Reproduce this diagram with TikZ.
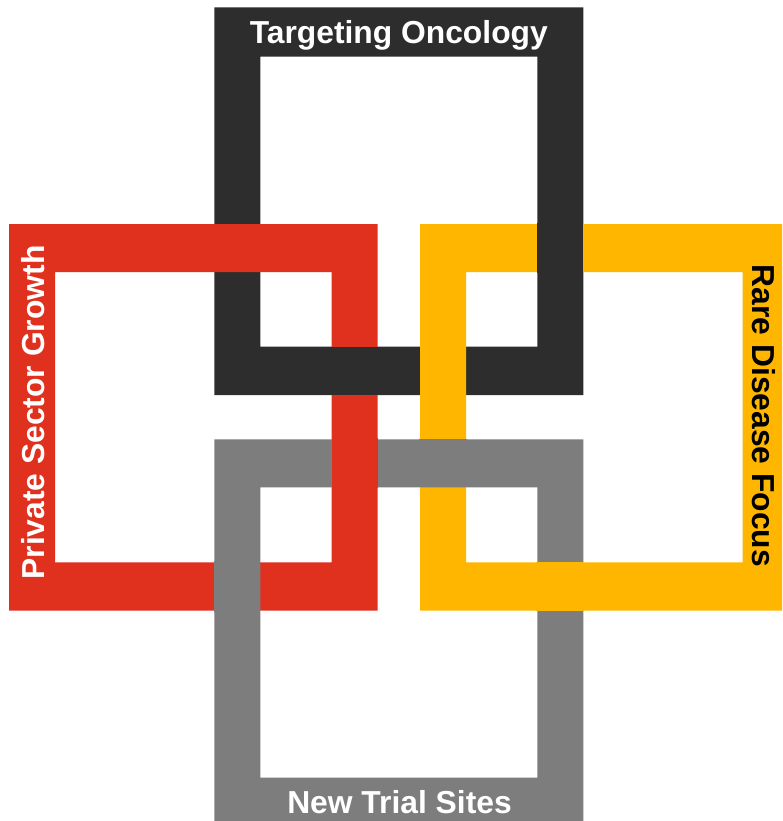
\documentclass[tikz,border=0pt]{standalone}
\usepackage{fontspec}
\setmainfont{Liberation Sans}
\usepackage{tikz}
\usetikzlibrary{positioning}

\definecolor{oncoblack}{HTML}{2D2D2D}
\definecolor{privred}{HTML}{E0301E}
\definecolor{rareyellow}{HTML}{FFB600}
\definecolor{sitesgray}{HTML}{7D7D7D}

\begin{document}
\begin{tikzpicture}[x=1pt, y=-1pt,
        frame/.style={even odd rule},
        frametext/.style={font=\bfseries\fontsize{31.8}{36}\selectfont, inner sep=0pt, anchor=base},
        ]

        \path[use as bounding box, clip] (0,0) rectangle (782,821);

        % Molduras
        \fill[oncoblack, frame] (214.3,7.5) rectangle (583.3,395) (260.3,56.7) rectangle (537.3,346.7);
        \fill[privred, frame] (9,224) rectangle (377.7,610.5) (55,272) rectangle (331.7,562.3);
        \fill[rareyellow, frame] (420,224) rectangle (789,610.5) (466,272) rectangle (742.7,562.3);
        \fill[sitesgray, frame] (214.3,439.3) rectangle (583.3,826) (260.3,487.3) rectangle (537.3,777.7);

        % Cruzamentos (quem passa por cima)
        \fill[privred] (213.3,224) rectangle (261.3,272);
        \fill[oncoblack] (330.7,346.7) rectangle (378.7,395);
        \fill[rareyellow] (420,345.7) rectangle (466,396);
        \fill[oncoblack] (537.3,223) rectangle (583.3,273);
        \fill[privred] (331.7,438.3) rectangle (377.7,488.3);
        \fill[sitesgray] (214.3,561.3) rectangle (260.3,611.5);
        \fill[sitesgray] (419,439.3) rectangle (467,487.3);
        \fill[rareyellow] (536.3,562.3) rectangle (584.3,610.5);

        % Textos
        \node (onco) [frametext, text=white] at (398.8,43.3) {Targeting Oncology};
        \node (sites) [frametext, text=white] at (399.5,813.7) {New Trial Sites};
        \node (priv) [frametext, text=white, rotate=90] at (44.5,412.5) {Private Sector Growth};
        \node (rare) [frametext, text=black, rotate=-90] at (752.3,416) {Rare Disease Focus};

\end{tikzpicture}
\end{document}
